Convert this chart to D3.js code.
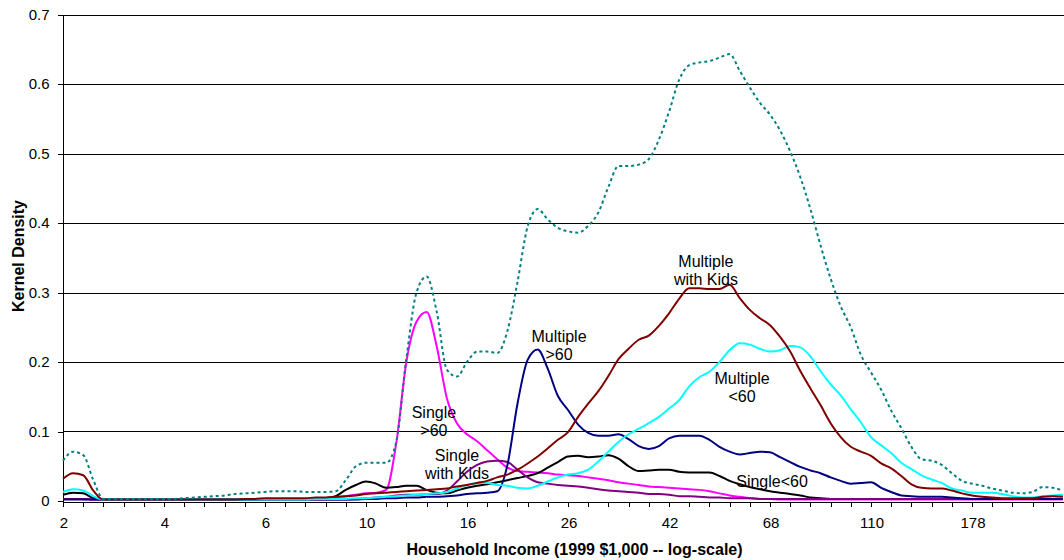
<!DOCTYPE html>
<html><head><meta charset="utf-8">
<script src="https://cdn.jsdelivr.net/npm/d3@7"></script>
<style>
body{margin:0;background:#fff;}
svg{display:block;}
text{font-family:"Liberation Sans", Arial, sans-serif;fill:#000;}
</style>
</head><body>
<svg id="chart" width="1064" height="560"></svg>
<script>
// Household income grid ($1,000, log-spaced evaluation points)
const income = [
2.361, 2.477, 2.600, 2.728, 2.862, 3.003, 3.151, 3.307, 3.470, 3.641,
3.820, 4.008, 4.206, 4.413, 4.631, 4.859, 5.099, 5.350, 5.614, 5.891,
6.180, 6.485, 6.804, 7.140, 7.492, 7.861, 8.248, 8.655, 9.082, 9.530,
10.00, 10.49, 11.01, 11.55, 12.12, 12.72, 13.35, 14.01, 14.70, 15.42,
16.18, 16.98, 17.81, 18.69, 19.62, 20.58, 21.60, 22.66, 23.78, 24.95,
26.18, 27.47, 28.82, 30.25, 31.74, 33.30, 34.94, 36.67, 38.47, 40.37,
42.36, 44.45, 46.64, 48.94, 51.35, 53.88, 56.54, 59.33, 62.25, 65.32,
68.54, 71.92, 75.46, 79.18, 83.09, 87.18, 91.48, 95.99, 100.7, 105.7,
110.9, 116.4, 122.1, 128.1, 134.4, 141.1, 148.0, 155.3, 163.0, 171.0,
179.4, 188.2, 197.5, 207.3, 217.5, 228.2, 239.4, 251.3, 263.6, 276.7
];

const total = [
0.058,0.071,0.066,0.030,0.003,0.003,0.003,0.003,0.003,0.003,
0.003,0.003,0.004,0.005,0.006,0.007,0.008,0.010,0.011,0.012,
0.013,0.014,0.014,0.014,0.013,0.013,0.013,0.014,0.030,0.050,
0.055,0.055,0.055,0.085,0.205,0.300,0.323,0.272,0.189,0.179,
0.200,0.215,0.215,0.213,0.245,0.315,0.395,0.420,0.405,0.393,
0.388,0.386,0.396,0.415,0.452,0.482,0.482,0.484,0.492,0.520,
0.560,0.606,0.627,0.631,0.633,0.638,0.643,0.619,0.595,0.573,
0.556,0.533,0.503,0.466,0.420,0.368,0.320,0.280,0.250,0.210,
0.185,0.160,0.130,0.105,0.078,0.060,0.058,0.052,0.040,0.029,
0.025,0.022,0.018,0.015,0.012,0.011,0.013,0.020,0.019,0.015
];

const singleOver60 = [
0.003,0.003,0.003,0.002,0.002,0.002,0.002,0.002,0.002,0.002,
0.002,0.002,0.002,0.002,0.002,0.002,0.002,0.002,0.002,0.002,
0.002,0.002,0.003,0.003,0.003,0.003,0.004,0.005,0.007,0.009,
0.011,0.012,0.016,0.083,0.200,0.258,0.272,0.222,0.148,0.112,
0.096,0.086,0.073,0.060,0.048,0.043,0.042,0.041,0.040,0.038,
0.037,0.036,0.034,0.032,0.030,0.027,0.025,0.023,0.021,0.020,
0.019,0.018,0.017,0.016,0.014,0.011,0.008,0.006,0.004,0.003,
0.003,0.002,0.002,0.002,0.002,0.002,0.002,0.002,0.002,0.002,
0.002,0.002,0.002,0.002,0.002,0.002,0.002,0.002,0.002,0.002,
0.002,0.002,0.002,0.002,0.002,0.002,0.002,0.002,0.002,0.002
];

const singleUnder60 = [
0.009,0.012,0.011,0.004,0.002,0.002,0.002,0.002,0.002,0.002,
0.002,0.002,0.002,0.002,0.002,0.002,0.002,0.002,0.002,0.002,
0.003,0.003,0.003,0.003,0.003,0.003,0.004,0.007,0.016,0.023,
0.028,0.025,0.019,0.020,0.022,0.022,0.016,0.012,0.011,0.015,
0.019,0.022,0.024,0.027,0.030,0.033,0.036,0.040,0.048,0.056,
0.064,0.065,0.063,0.064,0.066,0.061,0.050,0.043,0.044,0.045,
0.045,0.042,0.041,0.041,0.041,0.036,0.029,0.024,0.020,0.017,
0.014,0.012,0.010,0.008,0.005,0.004,0.003,0.003,0.003,0.003,
0.003,0.003,0.003,0.003,0.003,0.003,0.003,0.003,0.003,0.003,
0.003,0.003,0.003,0.003,0.003,0.003,0.003,0.003,0.003,0.003
];

const singleWithKids = [
0.003,0.003,0.003,0.002,0.002,0.002,0.002,0.002,0.002,0.002,
0.002,0.002,0.002,0.002,0.002,0.002,0.002,0.002,0.002,0.002,
0.002,0.002,0.002,0.002,0.002,0.002,0.002,0.002,0.002,0.003,
0.004,0.005,0.006,0.008,0.009,0.009,0.010,0.010,0.015,0.028,
0.042,0.052,0.057,0.058,0.056,0.045,0.034,0.027,0.025,0.023,
0.022,0.021,0.019,0.017,0.015,0.014,0.013,0.012,0.010,0.010,
0.009,0.007,0.007,0.006,0.005,0.005,0.004,0.004,0.004,0.003,
0.003,0.003,0.003,0.003,0.003,0.003,0.003,0.003,0.003,0.003,
0.003,0.003,0.003,0.003,0.003,0.003,0.003,0.003,0.003,0.003,
0.003,0.003,0.003,0.003,0.003,0.003,0.003,0.003,0.003,0.003
];

const multipleOver60 = [
0.002,0.002,0.002,0.002,0.002,0.002,0.002,0.002,0.002,0.002,
0.002,0.002,0.002,0.002,0.002,0.002,0.002,0.002,0.002,0.002,
0.002,0.002,0.002,0.002,0.002,0.002,0.002,0.002,0.002,0.002,
0.003,0.003,0.004,0.004,0.005,0.005,0.006,0.006,0.007,0.008,
0.010,0.011,0.012,0.014,0.052,0.140,0.203,0.218,0.190,0.151,
0.131,0.110,0.098,0.094,0.094,0.096,0.089,0.079,0.075,0.079,
0.090,0.094,0.094,0.094,0.088,0.078,0.071,0.067,0.069,0.071,
0.070,0.063,0.056,0.049,0.044,0.040,0.034,0.029,0.025,0.026,
0.027,0.019,0.013,0.008,0.007,0.006,0.006,0.006,0.005,0.004,
0.003,0.003,0.003,0.003,0.003,0.003,0.003,0.003,0.003,0.003
];

const multipleUnder60 = [
0.013,0.017,0.015,0.007,0.002,0.002,0.002,0.002,0.002,0.002,
0.002,0.002,0.002,0.002,0.002,0.002,0.002,0.002,0.002,0.002,
0.002,0.002,0.002,0.002,0.002,0.003,0.003,0.003,0.003,0.004,
0.004,0.005,0.006,0.007,0.008,0.009,0.010,0.011,0.013,0.018,
0.023,0.026,0.026,0.023,0.022,0.019,0.018,0.022,0.028,0.034,
0.038,0.040,0.045,0.057,0.071,0.085,0.096,0.104,0.112,0.121,
0.133,0.145,0.165,0.178,0.186,0.200,0.217,0.227,0.225,0.219,
0.215,0.217,0.223,0.221,0.208,0.187,0.168,0.152,0.132,0.113,
0.092,0.080,0.069,0.055,0.046,0.037,0.031,0.026,0.018,0.015,
0.012,0.012,0.012,0.010,0.007,0.005,0.005,0.007,0.008,0.009
];

const multipleWithKids = [
0.032,0.040,0.037,0.015,0.002,0.002,0.002,0.002,0.002,0.002,
0.002,0.002,0.002,0.002,0.002,0.002,0.002,0.002,0.003,0.003,
0.004,0.004,0.004,0.004,0.004,0.005,0.005,0.006,0.007,0.008,
0.010,0.011,0.012,0.013,0.014,0.015,0.016,0.017,0.018,0.021,
0.023,0.026,0.029,0.034,0.038,0.045,0.054,0.064,0.076,0.088,
0.099,0.121,0.140,0.158,0.180,0.204,0.219,0.232,0.238,0.252,
0.270,0.291,0.306,0.306,0.305,0.305,0.311,0.292,0.275,0.263,
0.253,0.236,0.215,0.187,0.162,0.138,0.112,0.092,0.078,0.071,
0.065,0.054,0.047,0.036,0.024,0.019,0.018,0.018,0.015,0.011,
0.008,0.006,0.005,0.004,0.004,0.004,0.004,0.006,0.007,0.006
];

const seriesNames  = ["Single>60", "Single<60", "Single with Kids", "Multiple>60", "Multiple<60", "Multiple with Kids", "Total"];
const seriesValues = [singleOver60, singleUnder60, singleWithKids, multipleOver60, multipleUnder60, multipleWithKids, total];
const seriesColors = ["#FF00FF", "#000000", "#800080", "#000080", "#00FFFF", "#800000", "#008080"];

const yTickValues = [0, 0.1, 0.2, 0.3, 0.4, 0.5, 0.6, 0.7];
const yTickLabels = ["0", "0.1", "0.2", "0.3", "0.4", "0.5", "0.6", "0.7"];
const xTickValues = [2.361, 3.820, 6.180, 10, 16.18, 26.18, 42.36, 68.54, 110.9, 179.4];
const xTickLabels = ["2", "4", "6", "10", "16", "26", "42", "68", "110", "178"];

// Annotation labels: text lines and anchor (income, density) of first line centre
const annLines  = [["Multiple", "with Kids"], ["Multiple", ">60"], ["Multiple", "<60"], ["Single", ">60"], ["Single", "with Kids"], ["Single<60"]];
const annIncome = [50.5, 25.08, 60.0, 13.82, 15.43, 69.2];
const annDensity = [0.3456, 0.2376, 0.1771, 0.1281, 0.0662, 0.0288];

const svg = d3.select("#chart");
svg.append("rect").attr("width", 1064).attr("height", 560).attr("fill", "#fff");

const L = 63, R = 1064, T = 14.5, B = 501;
const x = d3.scaleLog().domain([2.361, 278.1]).range([L, R]);
const y = d3.scaleLinear().domain([0, 0.7]).range([B, T]);

// gridlines
svg.append("g").selectAll("line").data(yTickValues.slice(1)).join("line")
  .attr("x1", L).attr("x2", R)
  .attr("y1", d => Math.round(y(d)) + 0.5).attr("y2", d => Math.round(y(d)) + 0.5)
  .attr("stroke", "#000").attr("stroke-width", 1);

// minor tick positions: 5 per labelled interval
const step = (x(xTickValues[1]) - x(xTickValues[0])) / 5;
const minorTicks = d3.range(0, 50).map(i => x.invert(L + i * step));

const xAxis = d3.axisBottom(x).tickValues(minorTicks).tickSizeInner(5).tickSizeOuter(0).tickPadding(10)
  .tickFormat(() => "");
const gx = svg.append("g").attr("transform", `translate(0,${Math.round(B) + 0.5})`).call(xAxis);
gx.selectAll("path,line").attr("stroke", "#000").attr("shape-rendering", "crispEdges");

// x labels
svg.append("g").selectAll("text").data(xTickValues).join("text")
  .attr("x", d => x(d) + 1).attr("y", 528)
  .attr("text-anchor", "middle").attr("font-size", 15)
  .text((d, i) => xTickLabels[i]);

const yAxis = d3.axisLeft(y).tickValues(yTickValues).tickSizeInner(5).tickSizeOuter(0).tickPadding(8)
  .tickFormat((d, i) => yTickLabels[i]);
const gy = svg.append("g").attr("transform", `translate(${L - 0.5},0)`).call(yAxis);
gy.selectAll("path,line").attr("stroke", "#000").attr("shape-rendering", "crispEdges");
gy.selectAll("text").attr("font-size", 15).attr("font-family", '"Liberation Sans", Arial, sans-serif').attr("fill", "#000");
gx.select(".domain").raise();

// lines
const line = d3.line().x(d => x(d[0])).y(d => y(d[1])).curve(d3.curveMonotoneX);
seriesValues.forEach((vals, si) => {
  const pts = income.map((inc, i) => [inc, vals[i]]);
  svg.append("path").datum(pts)
    .attr("d", line)
    .attr("fill", "none")
    .attr("stroke", seriesColors[si])
    .attr("stroke-width", 2)
    .attr("stroke-dasharray", seriesNames[si] === "Total" ? "3,3" : null)
    .attr("stroke-linejoin", "round");
});

// annotations
annLines.forEach((lines, i) => {
  const t = svg.append("text").attr("text-anchor", "middle").attr("font-size", 16);
  lines.forEach((s, j) => {
    t.append("tspan").attr("x", x(annIncome[i])).attr("y", y(annDensity[i]) + 6 + j * 18.5).text(s);
  });
});

// axis titles
svg.append("text").attr("x", 574.5).attr("y", 555).attr("text-anchor", "middle")
  .attr("font-size", 16).attr("font-weight", "bold")
  .text("Household Income (1999 $1,000 -- log-scale)");
svg.append("text").attr("transform", "translate(24,256) rotate(-90)").attr("text-anchor", "middle")
  .attr("font-size", 16).attr("font-weight", "bold")
  .text("Kernel Density");
</script>
</body></html>
